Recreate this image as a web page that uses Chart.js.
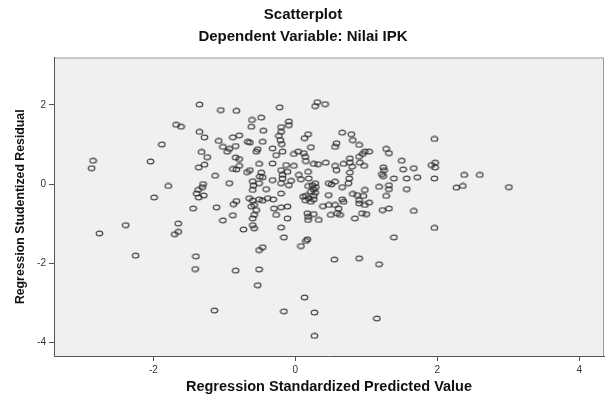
<!DOCTYPE html>
<html>
<head>
<meta charset="utf-8">
<title>Scatterplot</title>
<script src="https://cdn.jsdelivr.net/npm/chart.js@4/dist/chart.umd.min.js"></script>
<style>
  html, body { margin: 0; padding: 0; background: #fff; }
  #wrap { width: 609px; height: 397px; }
</style>
</head>
<body>
<div id="wrap"><canvas id="scatter" width="609" height="397"></canvas></div>
<script>
// Regression standardized predicted value (x) and studentized residual (y)
const predicted = [
  -1.35, -1.05, -0.83, -0.61, -1.68, -1.61, -1.35, -1.28, -1.08, -0.88,
  -0.79, -0.67, -1.88, -1.02, -0.93, -0.96, -0.84, -1.32, -1.24, -0.84,
  -0.79, -2.85, -2.87, -2.04, -1.36, -1.28, -0.88, -0.83, -0.79, -0.68,
  -0.64, -1.13, -0.93, -1.30, -1.31, -1.37, -1.39, -1.36, -1.29, -1.79,
  -1.99, -0.83, -0.87, -1.44, -1.11, -0.88, -1.02, -2.39, -1.65, -0.73,
  -2.76, -1.65, -1.70, -2.25, -1.40, -1.41, -0.84, -1.14,
  -0.22, 0.31, 0.28, 0.42, -0.48, -0.62, -0.09, -0.09, -0.20, -0.45,
  -0.20, -0.23, -0.21, -0.19, 0.18, 0.13, 0.66, 0.79, 0.81, 0.90,
  -0.64, -0.46, 0.58, 0.56, 0.98, -0.53, -0.55, -0.32, -0.18, -0.27,
  -0.02, 0.04, 0.12, 0.14, 0.15, 0.22, -0.51, -0.32, -0.13, -0.02,
  0.26, 0.32, 0.43, 0.56, 0.58, 0.68, 0.77, 0.77, 0.80, 0.91,
  0.97, -0.48, -0.46, -0.50, -0.20, -0.11, -0.18, 0.05, 0.18, 0.19,
  0.77, 0.76, 0.75, -0.60, -0.59, -0.60, -0.32, -0.20, -0.18, -0.06,
  -0.09, 0.08,
  0.28, 0.24, 0.18, 0.29, 0.26, 0.22, 0.28, 0.15, 0.11, 0.26,
  0.19, 0.14, 0.22, 0.26, 0.17, 0.18, 0.18, 0.26,
  -0.41, 0.47, 0.51, 0.56, 0.66, 0.81, 0.87, 0.90, 0.96, 0.98,
  -0.65, -0.60, -0.58, -0.62, -0.51, -0.39, -0.31, -0.20, -0.55, -0.58,
  -0.60, -0.30, -0.20, -0.11, -0.27, -0.11, 0.39, 0.47, 0.56, 0.59,
  0.50, 0.63, 0.61, 0.84, 0.94, -0.60, -0.58, -0.20, 0.33, -0.51,
  -0.46, 0.47, 0.68, 0.66, 0.98, -0.16, 0.17, 0.15, 0.08, -0.51,
  -0.46, 0.55, 0.90, -0.51, -0.53, 0.13, -0.16, 0.27, 0.27,
  1.96, 0.90, 0.95, 1.04, 1.28, 1.32, 1.24, 1.25, 1.22, 1.24,
  1.50, 1.52, 1.67, 1.57, 1.72, 1.39, 1.18, 1.32, 1.32, 1.57,
  1.92, 1.97, 1.97, 1.96, 2.38, 2.60, 2.27, 2.36, 1.04, 0.90,
  1.28, 1.00, 1.23, 1.32, 1.67, 1.96, 1.39, 1.18, 1.15, 3.01
];
const residual = [
  2.01, 1.87, 1.85, 1.62, 1.50, 1.45, 1.32, 1.18, 1.09, 1.18,
  1.23, 1.07, 1.00, 0.94, 0.89, 0.82, 0.96, 0.81, 0.68, 0.67,
  0.63, 0.59, 0.40, 0.57, 0.42, 0.49, 0.38, 0.37, 0.46, 0.30,
  0.35, 0.21, 0.02, 0.00, -0.08, -0.15, -0.24, -0.34, -0.29, -0.05,
  -0.34, -0.43, -0.51, -0.62, -0.59, -0.79, -0.92, -1.04, -1.00, -1.15,
  -1.25, -1.21, -1.27, -1.81, -1.83, -2.15, -2.19, -3.20,
  1.94, 2.07, 1.97, 2.02, 1.68, 1.45, 1.58, 1.49, 1.44, 1.35,
  1.32, 1.22, 1.11, 1.01, 1.26, 1.16, 1.30, 1.26, 1.11, 0.99,
  1.05, 1.07, 1.03, 0.94, 0.82, 0.88, 0.82, 0.90, 0.82, 0.73,
  0.76, 0.82, 0.78, 0.69, 0.58, 0.93, 0.51, 0.52, 0.48, 0.46,
  0.51, 0.50, 0.54, 0.46, 0.35, 0.51, 0.65, 0.54, 0.44, 0.54,
  0.46, 0.29, 0.17, 0.19, 0.35, 0.31, 0.23, 0.23, 0.31, 0.14,
  0.29, 0.14, 0.02, 0.07, -0.04, -0.15, 0.10, 0.02, 0.14, 0.08,
  -0.03, 0.12,
  0.02, -0.03, -0.05, -0.08, -0.14, -0.19, -0.22, -0.30, -0.32, -0.30,
  -0.36, -0.41, -0.45, -0.39, -0.74, -0.83, -0.91, -0.76,
  -0.13, 0.02, -0.01, 0.06, -0.08, -0.25, -0.28, -0.41, -0.30, -0.15,
  -0.36, -0.42, -0.53, -0.57, -0.39, -0.36, -0.39, -0.24, -0.66, -0.78,
  -0.87, -0.62, -0.59, -0.57, -0.78, -0.87, -0.56, -0.53, -0.53, -0.74,
  -0.78, -0.78, -0.62, -0.87, -0.74, -1.04, -1.12, -1.10, -0.91, 0.02,
  -0.42, -0.28, -0.45, -0.39, -0.53, -1.35, -1.40, -1.44, -1.57, -1.67,
  -1.60, -1.91, -1.88, -2.16, -2.56, -2.87, -3.22, -3.25, -3.84,
  1.14, 0.69, 0.76, 0.82, 0.89, 0.78, 0.42, 0.35, 0.25, 0.20,
  0.59, 0.37, 0.40, 0.14, 0.17, 0.14, -0.07, -0.03, -0.13, -0.13,
  0.48, 0.54, 0.42, 0.14, 0.23, 0.23, -0.09, -0.05, -0.47, -0.49,
  -0.30, -0.76, -0.66, -0.62, -0.68, -1.11, -1.35, -2.03, -3.40, -0.08
];
const xTicks = [-2, 0, 2, 4];
const yTicks = [2, 0, -2, -4];

const mainTitle = 'Scatterplot';
const subTitle = 'Dependent Variable: Nilai IPK';
const xTitle = 'Regression Standardized Predicted Value';
const yTitle = 'Regression Studentized Residual';

Chart.defaults.font.family = '"Liberation Sans", Arial, sans-serif';

// little open ellipse used as the marker
const ring = document.createElement('canvas');
ring.width = 9;
ring.height = 7;
const rc = ring.getContext('2d');
rc.strokeStyle = 'rgba(40,40,40,0.85)';
rc.lineWidth = 1.2;
rc.beginPath();
rc.ellipse(4.5, 3.5, 3.3, 2.4, 0, 0, Math.PI * 2);
rc.stroke();

// grey plot background + light frame on top/right
const plotFrame = {
  id: 'plotFrame',
  beforeDraw(chart) {
    const { ctx, chartArea: a } = chart;
    ctx.save();
    ctx.fillStyle = '#f0f0f0';
    ctx.fillRect(a.left, a.top, a.right - a.left, a.bottom - a.top);
    ctx.strokeStyle = '#999';
    ctx.lineWidth = 1;
    ctx.beginPath();
    ctx.moveTo(a.left, a.top + 0.5);
    ctx.lineTo(a.right - 0.5, a.top + 0.5);
    ctx.lineTo(a.right - 0.5, a.bottom);
    ctx.stroke();
    ctx.restore();
  }
};

const points = predicted.map((x, i) => ({ x: x, y: residual[i] }));

new Chart(document.getElementById('scatter').getContext('2d'), {
  type: 'scatter',
  data: {
    datasets: [{
      data: points,
      pointStyle: ring,
      pointRadius: 4
    }]
  },
  options: {
    responsive: false,
    animation: false,
    layout: { padding: { left: 0, right: 3, top: 0, bottom: 0 } },
    plugins: {
      legend: { display: false },
      tooltip: { enabled: false },
      title: {
        display: true,
        text: mainTitle,
        color: '#111',
        font: { size: 15, weight: 'bold' },
        padding: { top: 6, bottom: 4 }
      },
      subtitle: {
        display: true,
        text: subTitle,
        color: '#111',
        font: { size: 15, weight: 'bold' },
        padding: { top: 0, bottom: 11.5 }
      }
    },
    scales: {
      x: {
        type: 'linear',
        min: -3.40,
        max: 4.35,
        afterBuildTicks: s => { s.ticks = xTicks.map(v => ({ value: v })); },
        afterFit: s => { s.height = 41; },
        grid: { drawOnChartArea: false, drawTicks: true, tickLength: 5, color: '#555' },
        border: { display: true, color: '#555' },
        ticks: { color: '#333', font: { size: 10 }, padding: 3, maxRotation: 0 },
        title: {
          display: true,
          text: xTitle,
          color: '#111',
          font: { size: 14.5, weight: 'bold' },
          padding: { top: 0, bottom: 1 }
        }
      },
      y: {
        type: 'linear',
        min: -4.35,
        max: 3.20,
        afterBuildTicks: s => { s.ticks = yTicks.map(v => ({ value: v })); },
        afterFit: s => { s.width = 54; },
        grid: { drawOnChartArea: false, drawTicks: true, tickLength: 5, color: '#555' },
        border: { display: true, color: '#555' },
        ticks: { color: '#333', font: { size: 10 }, padding: 3 },
        title: {
          display: true,
          text: yTitle,
          color: '#111',
          font: { size: 12.3, weight: 'bold' },
          padding: { top: 13, bottom: 0 }
        }
      }
    }
  },
  plugins: [plotFrame]
});
</script>
</body>
</html>
